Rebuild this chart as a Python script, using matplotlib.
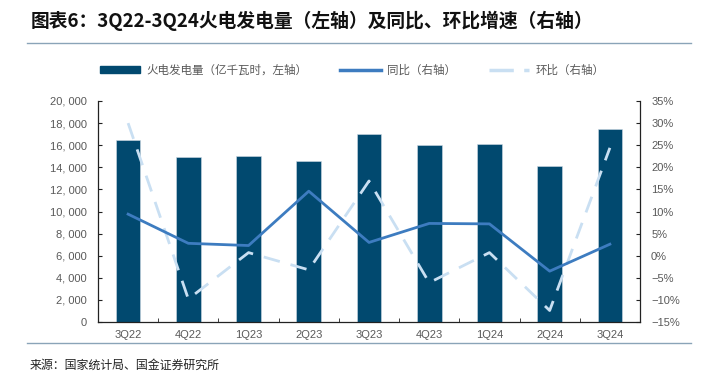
import matplotlib
matplotlib.use("Agg")
import matplotlib.pyplot as plt
from matplotlib.lines import Line2D
from matplotlib.patches import Patch
import numpy as np

plt.rcParams['font.family'] = ['Noto Sans CJK SC', 'DejaVu Sans']

categories = ["3Q22", "4Q22", "1Q23", "2Q23", "3Q23", "4Q23", "1Q24", "2Q24", "3Q24"]
thermal_power = [16500, 14900, 15000, 14600, 17000, 16000, 16100, 14100, 17500]
yoy = [9.4, 2.8, 2.3, 14.6, 3.0, 7.3, 7.2, -3.5, 2.6]
qoq = [30.0, -9.8, 0.7, -3.2, 16.9, -6.1, 0.7, -12.4, 24.4]
left_ticks = [0, 2000, 4000, 6000, 8000, 10000, 12000, 14000, 16000, 18000, 20000]
right_ticks = [-15, -10, -5, 0, 5, 10, 15, 20, 25, 30, 35]

bar_color = "#01496f"
yoy_color = "#3d7cc0"
qoq_color = "#c9dff2"
grey = "#595959"
tick_font = ['Liberation Sans', 'DejaVu Sans']

fig = plt.figure(figsize=(7.10, 3.79), dpi=100)
ax = fig.add_axes([98/710, 1-322/379, (640-98)/710, (322-101)/379])
x = np.arange(len(categories))
ax.bar(x, thermal_power, width=0.41, color=bar_color, edgecolor="#d0dce6", linewidth=0.4, zorder=2)
ax.set_xlim(-0.5, len(categories) - 0.5)
ax.set_ylim(0, 20000)
ax.set_yticks(left_ticks)
ax.set_yticklabels([f"{v:,}".replace(",", ", ") for v in left_ticks], family=tick_font, fontsize=8, color=grey)
ax.set_xticks(x)
ax.set_xticklabels(categories, family=tick_font, fontsize=8, color=grey)
ax.set_xticks(np.arange(-0.5, len(categories)), minor=True)
ax.tick_params(axis='x', which='major', length=0, pad=6)
ax.tick_params(axis='x', which='minor', direction='in', length=3, color="#222222")
ax.tick_params(axis='y', direction='in', length=3, color="#222222", pad=8)
ax.spines['top'].set_visible(False)
ax.spines['right'].set_visible(False)
for s in ['left', 'bottom']:
    ax.spines[s].set_color("#222222")
    ax.spines[s].set_linewidth(0.9)

ax2 = ax.twinx()
ax2.plot(x, qoq, color=qoq_color, linewidth=2.0, dashes=(6, 4), zorder=3)
ax2.plot(x, yoy, color=yoy_color, linewidth=2.0, zorder=4)
ax2.set_ylim(-15, 35)
ax2.set_yticks(right_ticks)
ax2.set_yticklabels([f"{v}%".replace("-", "\u2212") for v in right_ticks], family=tick_font, fontsize=8, color=grey)
ax2.tick_params(axis='y', direction='in', length=3, color="#222222", pad=8)
ax2.spines['top'].set_visible(False)
ax2.spines['left'].set_visible(False)
ax2.spines['bottom'].set_visible(False)
ax2.spines['right'].set_color("#222222")
ax2.spines['right'].set_linewidth(0.9)

handles = [
    Patch(facecolor=bar_color, edgecolor=bar_color),
    Line2D([0], [0], color=yoy_color, linewidth=2.5),
    Line2D([0], [0], color=qoq_color, linewidth=2.5, dashes=(7, 3)),
]
labels = ["火电发电量（亿千瓦时，左轴）", "同比（右轴）", "环比（右轴）"]
leg = fig.legend(handles, labels, loc='center', bbox_to_anchor=(352/710, 1-70/379), ncol=3,
                 frameon=False, fontsize=8.3, handlelength=3.5, handleheight=0.6,
                 columnspacing=2.9, handletextpad=0.5)
for t in leg.get_texts():
    t.set_color(grey)

fig.text(31/710, 1-21/379, "图表6：3Q22-3Q24火电发电量（左轴）及同比、环比增速（右轴）",
         fontsize=13.5, fontweight='bold', color="#111111", va='center', ha='left')
fig.add_artist(Line2D([27/710, 691/710], [1-43/379, 1-43/379], color="#8aa4b8", linewidth=1.0))
fig.add_artist(Line2D([27/710, 691/710], [1-343/379, 1-343/379], color="#8aa4b8", linewidth=1.0))
fig.text(30/710, 1-365/379, "来源：国家统计局、国金证券研究所", fontsize=8.6, color="#222222", va='center', ha='left')

fig.savefig("out.png", dpi=100)
